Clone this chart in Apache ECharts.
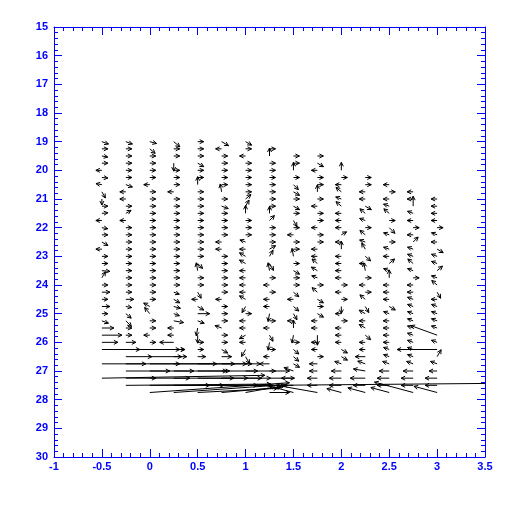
<!DOCTYPE html>
<html><head><meta charset="utf-8">
<script src="https://cdn.jsdelivr.net/npm/echarts@6/dist/echarts.min.js"></script>
<style>html,body{margin:0;padding:0;background:#fff}#c{width:512px;height:512px}</style>
</head><body><div id="c"></div><script>
// Grid columns (x) and first row (y) of each column; rows every 0.25 downward
const colX = [-0.5,-0.25,0,0.25,0.5,0.75,1,1.25,1.5,1.75,2,2.25,2.5,2.75,3];
const colTop = [19,19,19,19,19,19,19,19.25,19.5,19.5,20,20.25,20.5,20.75,21];
const rowStep = 0.25;
// Vector direction (degrees, 0 = east, 90 = up) per column, top to bottom
const dirs = [
 [-20,0,-10,0,180,-5,170,-60,-90,0,5,180,-10,0,-30,180, 0,0,-5,60,0,0,0,0,0,-20,0,0,0,0,0,0,0,1],
 [-20,0,0,0,0,0,-20,180,180,0,30,180,0,0,0,0, 0,0,0,0,0,0,0,-10,-40,-45,0,0,0,0,0,0,0,0,0.5],
 [-15,-40,0,0,0,0,180,0,0,0,0,0,0,0,0,0, 0,0,0,0,0,0,0,150,130,0,0,180,0,0,0,0,0,0,0,4],
 [-40,0,0,-90,0,0,0,180,0,0,0,0,0,0,0,0, 0,0,0,0,0,-20,-30,-15,-20,-10,180,180,180,0,0,0,0,0,0,4],
 [0,0,0,-30,0,0,90,0,0,0,0,0,0,0,0,0, 0,-45,100,0,0,-60,180,-30,0,-20,-100,-90,0,0,0,0,0,0,0,3],
 [-30,180,0,0,0,0,0,100,0,-20,0,0,0,0,180,180, 0,0,0,0,0,0,180,0,0,0,160,0,0,-30,0,0,0,0,0,5],
 [-30,0,180,0,0,0,0,0,40,60,90,0,0,0,160,180, 150,150,180,180,180,180,150,-120,0,180,180,-150,180,-120,-60,0,0,0,0,10],
 [0,90,0,0,0,0,0,0,0,90,45,0,0,0,30, 60,-60,100,0,180,0,180,180,-100,0,180,-60,-100,0,180,180,0,0,0.5,0],
 [0,0,90,0,-45,-30,0,-30,0,-60,0,180,0,0, 100,0,-30,0,0,-40,180,-40,-60,180,90,-100,0,-40,-40,-30,160,180,180,165],
 [0,-30,180,0,0,90,0,180,0,0,180,0,0,180, 180,140,150,160,0,140,-30,0,-30,180,180,-90,180,180,0,180,180,180,180,170],
 [90,0,180,140,160,140,180,180,180,30,180,90, 180,180,180,180,0,180,0,-90,180,0,180,180,180,-30,-30,160,180,180,180,165],
 [0,0,180,180,-30,140,160,0,140,160,120, -40,180,100,0,180,0,140,-60,150,180,150,-40,180,180,180,160,170,180,180,165],
 [180,0,180,160,140,0,-45,160,0,160, 180,40,160,90,180,180,180,-30,160,180,180,180,180,160,160,160,180,180,180,165],
 [180,180,90,160,180,0,180,45,160, 160,140,160,0,180,180,160,160,160,160,160,160,160,160,160,160,180,180,180,165],
 [180,180,180,180,0,160,180,-30, 160,160,40,160,140,-60,180,160,160,160,160,160,160,180,60,160,180,180,180,165]
];
// Vector magnitude per column, top to bottom (0 = no vector)
const spds = [
 [7,6,6,6,6,6,6,7,6,6,6,6,6,6,7,6, 6,6,8,7,6,8,6,8,6,7,12,20,16,38,0,150,0,163],
 [7,6,6,6,6,6,7,6,6,6,6,6,6,6,6,6, 6,6,6,6,6,6,8,6,7,8,6,6,10,59,26,20,101,30,145],
 [7,7,6,6,6,6,6,6,6,6,6,6,6,6,6,6, 6,6,6,6,6,6,6,7,8,6,6,6,6,35,37,30,20,40,60,140],
 [8,6,6,8,6,6,6,6,6,6,6,6,6,6,6,6, 6,6,6,6,6,6,7,7,6,10,6,6,14,6,8,43,20,60,50,100],
 [6,6,6,7,6,6,8,6,6,6,6,6,6,6,6,6, 6,7,8,6,6,7,6,7,12,7,8,8,6,6,8,37,60,50,60,80],
 [8,6,6,6,6,6,6,8,6,7,6,6,6,6,6,6, 6,6,6,6,6,6,6,6,6,6,7,6,6,7,10,25,8,40,50,60],
 [7,6,6,6,6,6,6,6,7,7,8,6,6,6,6,6, 7,7,6,6,6,6,7,7,6,6,6,7,6,8,8,15,30,25,40,40],
 [6,8,6,6,6,6,6,6,6,7,7,6,6,6,7, 7,8,8,6,6,6,6,6,8,6,6,7,8,6,6,10,20,25,222,20],
 [6,6,8,6,7,7,6,7,6,7,6,6,6,6, 8,6,7,6,6,7,6,7,7,6,8,8,6,7,7,7,10,12,10,25],
 [6,7,6,6,6,7,6,6,6,6,6,6,6,6, 6,7,7,6,6,7,7,6,7,6,6,10,6,6,6,8,8,10,10,42],
 [8,6,6,7,6,7,6,6,6,6,6,8, 6,6,6,6,6,6,6,7,6,6,6,6,6,7,7,7,10,12,12,15],
 [6,6,6,6,7,7,6,6,7,6,7, 7,6,8,6,6,6,7,7,7,6,7,7,6,6,10,8,12,15,12,18],
 [6,6,6,6,7,6,8,6,6,6, 6,7,6,8,6,6,6,7,6,6,6,6,6,6,6,7,10,12,12,19],
 [6,6,10,6,6,6,6,7,6, 6,7,6,6,6,6,6,6,6,6,6,6,6,6,6,7,10,12,12,40],
 [6,6,6,6,6,6,6,7, 6,6,7,6,7,7,6,6,6,6,6,28,6,40,8,7,8,12,12,24]
];
const xRange = [-1, 3.5], xStep = 0.5;
const yRange = [15, 30], yStep = 1;

const data = [];
colX.forEach((x, i) => {
  dirs[i].forEach((d, j) => {
    const s = spds[i][j];
    if (s > 0) data.push([x, colTop[i] + j * rowStep, d, s]);
  });
});

const BLUE = '#0000ff';
const axisCommon = {
  type: 'value',
  axisLine: {show: true, onZero: false, lineStyle: {color: BLUE, width: 1}},
  axisTick: {show: true, inside: true, length: 8, lineStyle: {color: BLUE, width: 1}},
  minorTick: {show: true, splitNumber: 5, length: 4, lineStyle: {color: BLUE, width: 1}},
  splitLine: {show: false},
  minorSplitLine: {show: false}
};
const labelStyle = {color: BLUE, fontSize: 11, fontWeight: 'bold', fontFamily: 'Liberation Sans, Arial, sans-serif'};

const chart = echarts.init(document.getElementById('c'), null, {renderer: 'canvas'});
chart.setOption({
  animation: false,
  backgroundColor: '#fff',
  grid: {left: 54, top: 27, width: 431, height: 430, containLabel: false},
  xAxis: [
    Object.assign({}, axisCommon, {min: xRange[0], max: xRange[1], interval: xStep, position: 'bottom',
      axisLabel: Object.assign({show: true, margin: 4}, labelStyle)}),
    Object.assign({}, axisCommon, {min: xRange[0], max: xRange[1], interval: xStep, position: 'top',
      axisLabel: {show: false}})
  ],
  yAxis: [
    Object.assign({}, axisCommon, {min: yRange[0], max: yRange[1], interval: yStep, inverse: true, position: 'left',
      axisLabel: Object.assign({show: true, margin: 6}, labelStyle)}),
    Object.assign({}, axisCommon, {min: yRange[0], max: yRange[1], interval: yStep, inverse: true, position: 'right',
      axisLabel: {show: false}})
  ],
  series: [{
    type: 'custom',
    clip: true,
    xAxisIndex: 0, yAxisIndex: 0,
    encode: {x: 0, y: 1},
    data: data,
    renderItem: function (params, api) {
      const p0 = api.coord([api.value(0), api.value(1)]);
      const a = api.value(2) * Math.PI / 180;
      const s = api.value(3);
      const dx = Math.cos(a), dy = -Math.sin(a);
      const p1 = [p0[0] + s * dx, p0[1] + s * dy];
      const hl = 4, hw = 2;
      const nx = -dy, ny = dx;
      const b1 = [p1[0] - hl * dx + hw * nx, p1[1] - hl * dy + hw * ny];
      const b2 = [p1[0] - hl * dx - hw * nx, p1[1] - hl * dy - hw * ny];
      const st = {stroke: '#000', lineWidth: 1, fill: null};
      return {
        type: 'group',
        children: [
          {type: 'polyline', shape: {points: [p0, p1]}, style: st},
          {type: 'polyline', shape: {points: [b1, p1, b2]}, style: st}
        ]
      };
    }
  }]
});
</script></body></html>
